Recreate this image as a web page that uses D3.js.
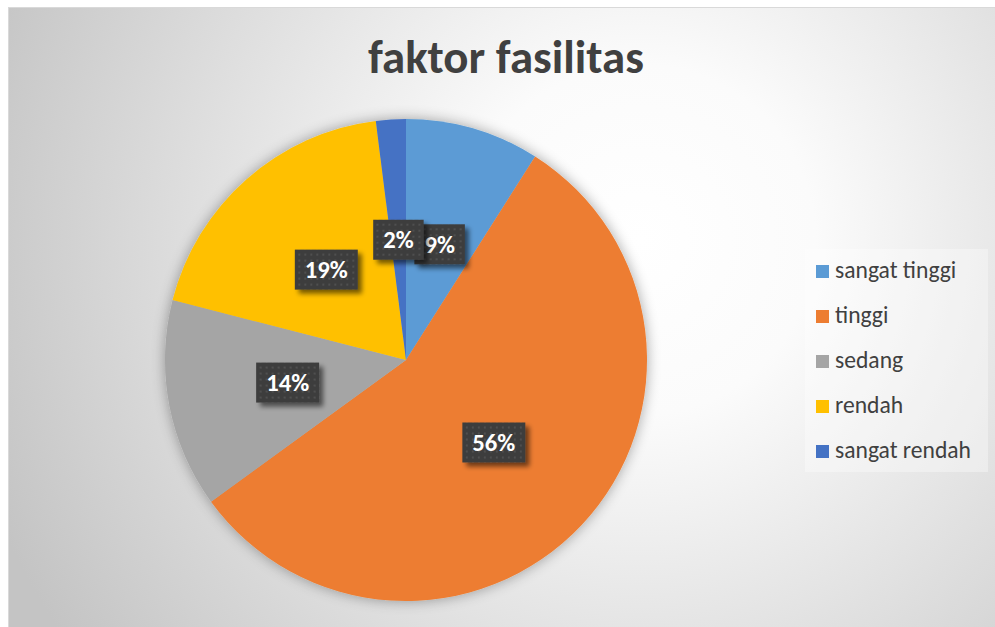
<!DOCTYPE html>
<html>
<head>
<meta charset="utf-8">
<script src="https://cdn.jsdelivr.net/npm/d3@7"></script>
<style>
  html, body { margin: 0; padding: 0; background: #ffffff; }
  svg { display: block; }
</style>
</head>
<body>
<svg id="chart" width="995" height="627"></svg>
<script>
// ---- data ----
const categories = ["sangat tinggi", "tinggi", "sedang", "rendah", "sangat rendah"];
const values = [9, 56, 14, 19, 2];
const colors = ["#5B9BD5", "#ED7D31", "#A5A5A5", "#FFC000", "#4472C4"];
const title = "faktor fasilitas";

// ---- layout ----
const W = 995, H = 627;
const cx = 406, cy = 360, R = 241;
const FONT = "Carlito, 'Open Sans', 'Noto Sans', sans-serif";

const svg = d3.select("#chart");
const defs = svg.append("defs");

// background radial gradient
const bg = defs.append("radialGradient")
  .attr("id", "bg").attr("gradientUnits", "userSpaceOnUse")
  .attr("cx", 640).attr("cy", 240).attr("r", 700);
bg.append("stop").attr("offset", "0%").attr("stop-color", "#ffffff");
bg.append("stop").attr("offset", "25%").attr("stop-color", "#fbfbfb");
bg.append("stop").attr("offset", "100%").attr("stop-color", "#c4c4c4");

// pie soft halo
const halo = defs.append("filter").attr("id", "halo")
  .attr("x", "-20%").attr("y", "-20%").attr("width", "140%").attr("height", "140%");
halo.append("feGaussianBlur").attr("in", "SourceAlpha").attr("stdDeviation", 7).attr("result", "b");
halo.append("feComponentTransfer").attr("in", "b").attr("result", "b2")
  .append("feFuncA").attr("type", "linear").attr("slope", 0.35);
const hm = halo.append("feMerge");
hm.append("feMergeNode").attr("in", "b2");
hm.append("feMergeNode").attr("in", "SourceGraphic");

// label box shadow
const sh = defs.append("filter").attr("id", "lblshadow")
  .attr("x", "-30%").attr("y", "-30%").attr("width", "170%").attr("height", "170%");
sh.append("feGaussianBlur").attr("in", "SourceAlpha").attr("stdDeviation", 2.5).attr("result", "b");
sh.append("feOffset").attr("in", "b").attr("dx", 4).attr("dy", 4).attr("result", "o");
sh.append("feComponentTransfer").attr("in", "o").attr("result", "o2")
  .append("feFuncA").attr("type", "linear").attr("slope", 0.55);
const sm = sh.append("feMerge");
sm.append("feMergeNode").attr("in", "o2");
sm.append("feMergeNode").attr("in", "SourceGraphic");

// dotted pattern for label boxes
const pat = defs.append("pattern").attr("id", "dots")
  .attr("patternUnits", "userSpaceOnUse").attr("width", 6).attr("height", 6);
pat.append("rect").attr("width", 6).attr("height", 6).attr("fill", "#3d3d3d");
pat.append("circle").attr("cx", 3).attr("cy", 3).attr("r", 1).attr("fill", "#555555");

// background
svg.append("rect").attr("x", 8.5).attr("y", 7.5).attr("width", W - 8).attr("height", H - 7)
  .attr("fill", "url(#bg)").attr("stroke", "#d9d9d9").attr("stroke-width", 1);

// title
const titleText = svg.append("text")
  .attr("x", 506).attr("y", 73)
  .attr("text-anchor", "middle")
  .attr("font-family", FONT).attr("font-weight", "bold")
  .attr("font-size", 40).attr("fill", "#404040")
  .text(title);
{
  const w = titleText.node().getComputedTextLength();
  titleText.attr("font-size", 40 * 276 / w);
}

// pie
const pie = d3.pie().sort(null).value(d => d)
  .startAngle(0).endAngle(2 * Math.PI);
const arcs = pie(values);
const arc = d3.arc().innerRadius(0).outerRadius(R);

const g = svg.append("g").attr("transform", `translate(${cx},${cy})`);
g.append("g").attr("filter", "url(#halo)")
  .selectAll("path").data(arcs).join("path")
  .attr("d", arc)
  .attr("fill", (d, i) => colors[i]);

// labels
const total = d3.sum(values);
const lbl = g.append("g").selectAll("g").data(arcs).join("g")
  .attr("transform", d => { const c = arc.centroid(d); return `translate(${c[0]},${c[1]})`; });

// size the label font so that "56%" is ~43px wide
let lblSize = 22;
{
  const probe = svg.append("text").attr("font-family", FONT).attr("font-weight", "bold")
    .attr("font-size", 22).text("56%");
  lblSize = 22 * 43 / probe.node().getComputedTextLength();
  probe.remove();
}

lbl.each(function (d) {
  const sel = d3.select(this);
  const rect = sel.append("rect").attr("fill", "url(#dots)").attr("filter", "url(#lblshadow)");
  const t = sel.append("text")
    .attr("text-anchor", "middle").attr("y", lblSize * 0.34)
    .attr("font-family", FONT).attr("font-weight", "bold")
    .attr("font-size", lblSize).attr("fill", "#ffffff")
    .text(Math.round(d.value / total * 100) + "%");
  const w = t.node().getComputedTextLength();
  const bw = w + 20, bh = 40;
  rect.attr("x", -bw / 2).attr("y", -bh / 2).attr("width", bw).attr("height", bh);
});

// legend
const lg = svg.append("g");
lg.append("rect").attr("x", 805).attr("y", 249).attr("width", 183).attr("height", 223)
  .attr("fill", "#ffffff").attr("fill-opacity", 0.35);
const rowY = d3.scalePoint().domain(categories).range([271.5, 451.5]);
const items = lg.selectAll("g.item").data(categories).join("g").attr("class", "item")
  .attr("transform", d => `translate(0,${rowY(d)})`);
items.append("rect").attr("x", 816).attr("y", -6.5).attr("width", 13).attr("height", 13)
  .attr("fill", (d, i) => colors[i]);
const lt = items.append("text").attr("x", 835).attr("y", 6)
  .attr("font-family", FONT).attr("font-size", 20).attr("fill", "#404040")
  .text(d => d);
{
  const w = lt.filter(d => d === "sangat rendah").node().getComputedTextLength();
  lt.attr("font-size", 20 * 136 / w);
}
</script>
</body>
</html>
